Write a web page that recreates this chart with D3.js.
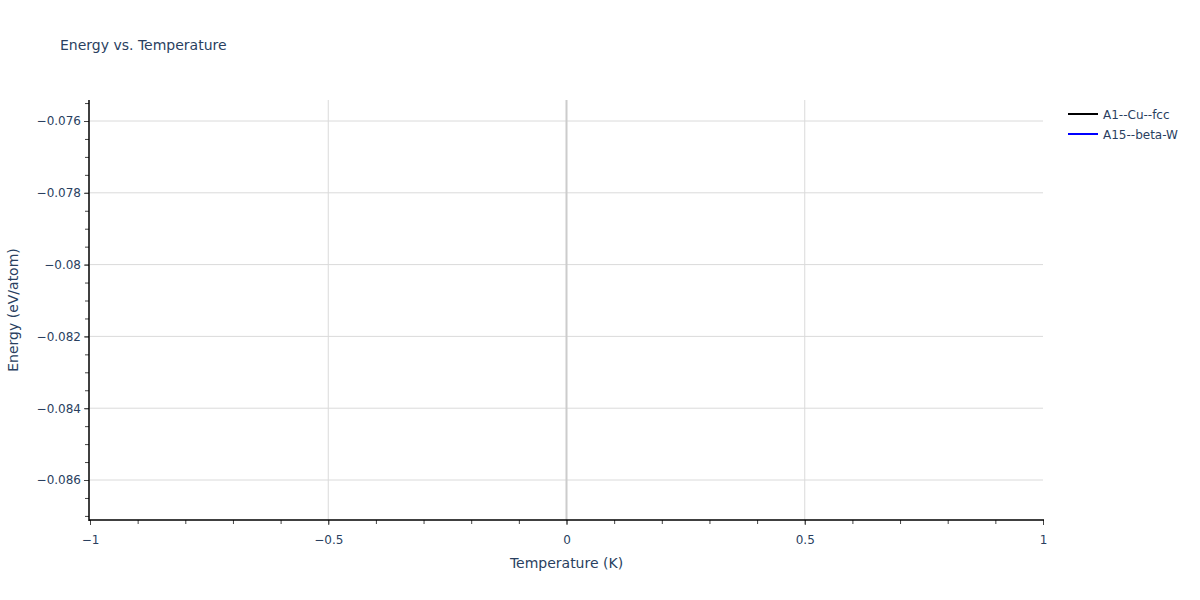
<!DOCTYPE html>
<html>
<head>
<meta charset="utf-8">
<script src="https://cdn.jsdelivr.net/npm/d3@7"></script>
<style>
  body { margin: 0; background: #fff; }
  text { font-family: "DejaVu Sans", Verdana, sans-serif; fill: #2a3f5f; }
</style>
</head>
<body>
<svg id="chart"></svg>
<script>
// series names and colours
const seriesNames = ["A1--Cu--fcc", "A15--beta-W"];
const seriesColors = ["#000000", "#0000ff"];
// each series only has a single point at T = 0, so no line is visible
const temperatures = [0];
const energyA1 = [-0.0765];
const energyA15 = [-0.0866];

const xTicks = [-1, -0.5, 0, 0.5, 1];
const xTickLabels = ["\u22121", "\u22120.5", "0", "0.5", "1"];
const yTicks = [-0.076, -0.078, -0.08, -0.082, -0.084, -0.086];
const yTickLabels = ["\u22120.076", "\u22120.078", "\u22120.08", "\u22120.082", "\u22120.084", "\u22120.086"];
const xDomain = [-1, 1];
const yDomain = [-0.087114, -0.075415];

const width = 1200, height = 600;
const plotL = 90, plotR = 1043, plotT = 100, plotB = 520;

const svg = d3.select("#chart").attr("width", width).attr("height", height);

const x = d3.scaleLinear().domain(xDomain).range([plotL, plotR]);
const y = d3.scaleLinear().domain(yDomain).range([plotB, plotT]);

// grid
const grid = svg.append("g");
grid.selectAll(".gy").data(yTicks).enter().append("line")
  .attr("x1", plotL).attr("x2", plotR)
  .attr("y1", d => y(d)).attr("y2", d => y(d))
  .attr("stroke", "#dadada").attr("stroke-width", 1);
grid.selectAll(".gx").data(xTicks.filter(d => d !== 0 && d !== -1 && d !== 1)).enter().append("line")
  .attr("x1", d => x(d)).attr("x2", d => x(d))
  .attr("y1", plotT).attr("y2", plotB)
  .attr("stroke", "#dadada").attr("stroke-width", 1);
// zero line
grid.append("line")
  .attr("x1", x(0)).attr("x2", x(0))
  .attr("y1", plotT).attr("y2", plotB)
  .attr("stroke", "#cccccc").attr("stroke-width", 2);

// data lines
const line = d3.line().x(d => x(d[0])).y(d => y(d[1]));
[energyA1, energyA15].forEach((vals, i) => {
  svg.append("path")
    .datum(temperatures.map((t, j) => [t, vals[j]]))
    .attr("d", line)
    .attr("fill", "none")
    .attr("stroke", seriesColors[i])
    .attr("stroke-width", 2);
});

// x axis
const xMinor = d3.range(-10, 11).map(d => d / 10);
const xAxis = svg.append("g").attr("transform", `translate(0,${plotB})`);
xAxis.call(d3.axisBottom(x).tickValues(xMinor).tickSize(4).tickFormat(""));
xAxis.selectAll(".tick line").attr("stroke", "#444");
const xMajor = svg.append("g").attr("transform", `translate(0,${plotB})`)
  .call(d3.axisBottom(x).tickValues(xTicks).tickSize(5)
    .tickFormat((d, i) => xTickLabels[i]));
xMajor.selectAll(".tick line").attr("stroke", "#444");
xMajor.selectAll("text").attr("font-size", 12).attr("dy", "1.3em").style("font-family", null);
svg.selectAll(".domain").remove();
svg.append("line").attr("x1", plotL - 1).attr("x2", plotR + 1)
  .attr("y1", plotB).attr("y2", plotB).attr("stroke", "#000").attr("stroke-width", 1.5);

// y axis
const yMinor = d3.range(-174, -150).map(d => d * 0.0005);
const yAxis = svg.append("g").attr("transform", `translate(${plotL - 1},0)`);
yAxis.call(d3.axisLeft(y).tickValues(yMinor).tickSize(4).tickFormat(""));
yAxis.selectAll(".tick line").attr("stroke", "#444");
const yMajor = svg.append("g").attr("transform", `translate(${plotL - 1},0)`)
  .call(d3.axisLeft(y).tickValues(yTicks).tickSize(5)
    .tickFormat((d, i) => yTickLabels[i]));
yMajor.selectAll(".tick line").attr("stroke", "#444");
yMajor.selectAll("text").attr("font-size", 12).attr("x", -8).style("font-family", null);
svg.selectAll(".domain").remove();
svg.append("line").attr("x1", plotL - 1).attr("x2", plotL - 1)
  .attr("y1", plotT).attr("y2", plotB + 1).attr("stroke", "#000").attr("stroke-width", 1.5);

svg.selectAll(".tick text").attr("fill", "#2a3f5f");

// titles
svg.append("text").attr("x", 60).attr("y", 50).attr("font-size", 14)
  .text("Energy vs. Temperature");
svg.append("text").attr("x", (plotL + plotR) / 2).attr("y", 568)
  .attr("text-anchor", "middle").attr("font-size", 14).text("Temperature (K)");
svg.append("text").attr("transform", `translate(18,${(plotT + plotB) / 2}) rotate(-90)`)
  .attr("text-anchor", "middle").attr("font-size", 14).text("Energy (eV/atom)");

// legend
const legend = svg.append("g").attr("transform", "translate(1068,114)");
seriesNames.forEach((name, i) => {
  const g = legend.append("g").attr("transform", `translate(0,${i * 20})`);
  g.append("line").attr("x1", 0).attr("x2", 30).attr("y1", 0).attr("y2", 0)
    .attr("stroke", seriesColors[i]).attr("stroke-width", 2);
  g.append("text").attr("x", 35).attr("y", 4.5).attr("font-size", 12).text(name);
});
</script>
</body>
</html>
